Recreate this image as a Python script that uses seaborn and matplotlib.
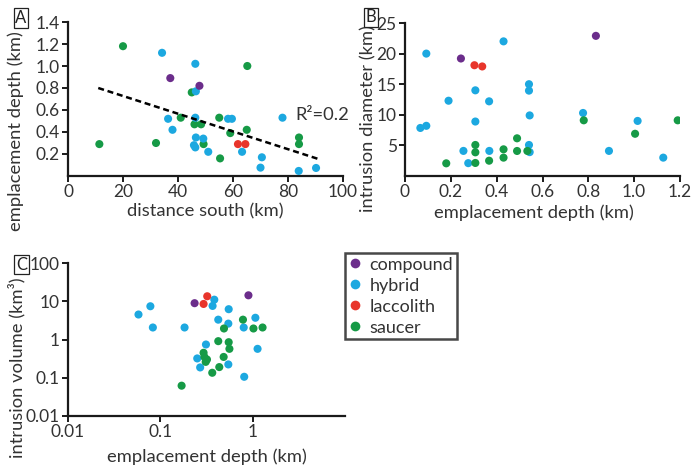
import matplotlib
matplotlib.use("Agg")
import matplotlib.pyplot as plt
from matplotlib.lines import Line2D
import seaborn as sns
import pandas as pd

# ---- intrusion types and colours ----
types = ["compound", "hybrid", "laccolith", "saucer"]
colors = {"compound": "#6b2d8b", "hybrid": "#1ca8e0", "laccolith": "#e8352b", "saucer": "#169a46"}

# ---- panel A: emplacement depth vs distance south ----
a_dist = [11.4, 20, 32, 41, 45, 46, 48.4, 49.3, 55, 55.3, 59, 65, 65.2, 84, 84,
          34.2, 46.3, 46.5, 36.4, 38, 46.3, 46.5, 49.2, 45.8, 46.3, 51, 58.2, 59.6, 63.3, 70.5, 70, 78, 83.9, 90.2,
          37.2, 47.8,
          61.8, 64.5]
a_depth = [0.29, 1.18, 0.30, 0.53, 0.76, 0.47, 0.47, 0.29, 0.53, 0.16, 0.39, 0.42, 1.00, 0.35, 0.29,
           1.12, 1.02, 0.77, 0.52, 0.42, 0.53, 0.35, 0.34, 0.28, 0.26, 0.22, 0.52, 0.52, 0.22, 0.17, 0.076, 0.53, 0.046, 0.073,
           0.89, 0.82,
           0.29, 0.29]
a_type = ["saucer"] * 15 + ["hybrid"] * 19 + ["compound"] * 2 + ["laccolith"] * 2
trend_dist = [11, 91]
trend_depth = [0.80, 0.155]
r2_text = "R²=0.2"

# ---- panel B: intrusion diameter vs emplacement depth ----
b_depth = [0.067, 0.093, 0.093, 0.19, 0.255, 0.276, 0.307, 0.307, 0.367, 0.368, 0.43, 0.541, 0.541, 0.544,
           0.541, 0.544, 0.777, 0.89, 1.015, 1.127,
           0.18, 0.307, 0.307, 0.307, 0.367, 0.43, 0.43, 0.489, 0.489, 0.534, 0.78, 1.004, 1.19,
           0.244, 0.833,
           0.303, 0.337]
b_diam = [7.85, 8.2, 20.0, 12.3, 4.1, 2.1, 14.0, 8.9, 12.2, 4.1, 22.0, 15.0, 13.95, 9.9,
          5.07, 3.9, 10.3, 4.1, 9.0, 3.0,
          2.07, 5.07, 3.87, 2.13, 2.5, 4.36, 3.0, 6.16, 4.09, 4.09, 9.1, 6.9, 9.1,
          19.2, 22.9,
          18.1, 17.9]
b_type = ["hybrid"] * 20 + ["saucer"] * 13 + ["compound"] * 2 + ["laccolith"] * 2

# ---- panel C: intrusion volume vs emplacement depth (log-log) ----
c_depth = [0.058, 0.078, 0.083, 0.183, 0.251, 0.27, 0.312, 0.368, 0.384, 0.424, 0.55, 0.545, 0.545, 0.80,
           0.81, 1.07, 1.13,
           0.17, 0.294, 0.30, 0.32, 0.31, 0.365, 0.424, 0.435, 0.489, 0.485, 0.55, 0.56, 0.785, 1.02, 1.28,
           0.235, 0.90,
           0.294, 0.322]
c_volume = [4.5, 7.4, 2.06, 2.06, 0.32, 0.186, 0.74, 7.55, 11.0, 3.3, 6.2, 2.6, 0.223, 2.06,
            0.106, 3.7, 0.57,
            0.062, 0.45, 0.35, 0.30, 0.26, 0.135, 0.905, 0.19, 1.94, 0.35, 0.85, 0.57, 3.3, 1.94, 2.06,
            8.9, 14.3,
            8.5, 13.5]
c_type = ["hybrid"] * 17 + ["saucer"] * 15 + ["compound"] * 2 + ["laccolith"] * 2

dfa = pd.DataFrame({"distance": a_dist, "depth": a_depth, "type": a_type})
dfb = pd.DataFrame({"depth": b_depth, "diameter": b_diam, "type": b_type})
dfc = pd.DataFrame({"depth": c_depth, "volume": c_volume, "type": c_type})

sns.set_theme(style="ticks")
plt.rcParams["font.family"] = ["Lato", "DejaVu Sans"]
FS = 12.5   # tick labels
LFS = 13.2  # axis labels

fig = plt.figure(figsize=(6.91, 4.74), dpi=100)
W, H = 691, 474


def add_ax(left, top, right, bottom):
    return fig.add_axes([left / W, 1 - bottom / H, (right - left) / W, (bottom - top) / H])


def place_labels(ax, box, xlab_center_y, ylab_center):
    """Put the axis labels at fixed pixel centres (box = left, top, right, bottom)."""
    left, top, right, bottom = box
    w, h = right - left, bottom - top
    ax.xaxis.label.set_verticalalignment("center")
    ax.xaxis.set_label_coords(0.5, -(xlab_center_y - bottom) / h)
    ax.yaxis.label.set_verticalalignment("center")
    ax.yaxis.set_label_coords((ylab_center[0] - left) / w, (bottom - ylab_center[1]) / h)


boxA = (68, 22, 343, 176)
boxB = (405, 23, 680, 176)
boxC = (68, 263, 345, 416)
axA = add_ax(*boxA)
axB = add_ax(*boxB)
axC = add_ax(*boxC)

mk = dict(hue="type", hue_order=types, palette=colors, s=34, linewidth=0, legend=False, alpha=1, zorder=3)

sns.scatterplot(data=dfa, x="distance", y="depth", ax=axA, **mk)
axA.plot(trend_dist, trend_depth, color="black", lw=1.8, ls=(0, (2.4, 1.5)), zorder=4)
axA.text(92.5, 0.55, r2_text, fontsize=LFS, ha="center", va="center", color="#333333", clip_on=False)
axA.set_xlim(0, 100)
axA.set_ylim(0, 1.4)
axA.set_xticks([0, 20, 40, 60, 80, 100])
axA.set_yticks([0.2, 0.4, 0.6, 0.8, 1.0, 1.2, 1.4])
axA.set_yticklabels(["0.2", "0.4", "0.6", "0.8", "1.0", "1.2", "1.4"])
axA.set_xlabel("distance south (km)", fontsize=LFS)
axA.set_ylabel("emplacement depth (km)", fontsize=LFS)
place_labels(axA, boxA, 211, (16, 131))

sns.scatterplot(data=dfb, x="depth", y="diameter", ax=axB, **mk)
axB.set_xlim(0, 1.2)
axB.set_ylim(0, 25)
axB.set_xticks([0, 0.2, 0.4, 0.6, 0.8, 1.0, 1.2])
axB.set_xticklabels(["0", "0.2", "0.4", "0.6", "0.8", "1.0", "1.2"])
axB.set_yticks([5, 10, 15, 20, 25])
axB.set_xlabel("emplacement depth (km)", fontsize=LFS)
axB.set_ylabel("intrusion diameter (km)", fontsize=LFS)
place_labels(axB, boxB, 213, (368, 119))
axB.xaxis.set_label_coords(0.47, axB.xaxis.label.get_position()[1])

sns.scatterplot(data=dfc, x="depth", y="volume", ax=axC, **mk)
axC.set_xscale("log")
axC.set_yscale("log")
axC.set_xlim(0.01, 10)
axC.set_ylim(0.01, 100)
axC.set_xticks([0.01, 0.1, 1])
axC.set_xticklabels(["0.01", "0.1", "1"])
axC.set_yticks([0.01, 0.1, 1, 10, 100])
axC.set_yticklabels(["0.01", "0.1", "1", "10", "100"])
axC.minorticks_off()
axC.set_xlabel("emplacement depth (km)", fontsize=LFS)
axC.set_ylabel("intrusion volume (km³)", fontsize=LFS)
place_labels(axC, boxC, 457, (17, 368))

for ax in (axA, axB, axC):
    sns.despine(ax=ax)
    for sp in ("left", "bottom"):
        ax.spines[sp].set_linewidth(1.6)
        ax.spines[sp].set_color("#1a1a1a")
    ax.tick_params(axis="both", which="both", direction="out", length=4, width=1.4,
                   labelsize=FS, pad=2, colors="#1a1a1a", labelcolor="#333333")
    ax.xaxis.label.set_color("#333333")
    ax.yaxis.label.set_color("#333333")

# panel letters
for letter, (px, py) in zip("ABC", [(21, 18), (371, 17.5), (21.5, 264.5)]):
    fig.text(px / W, 1 - py / H, letter, fontsize=12, ha="center", va="center", color="#222222",
             bbox=dict(boxstyle="square,pad=0.1", fc="white", ec="#222222", lw=0.9))

# legend
handles = [Line2D([], [], marker="o", ls="none", markersize=7, markerfacecolor=colors[t],
                  markeredgewidth=0) for t in types]
leg = fig.legend(handles, types, loc="upper left", bbox_to_anchor=(345 / W, 1 - 253 / H),
                 fontsize=13, frameon=True, fancybox=False, handlelength=0.7, handletextpad=0.45,
                 borderpad=0.2, labelspacing=0.28, borderaxespad=0)
leg.get_frame().set_edgecolor("#1a1a1a")
leg.get_frame().set_linewidth(1.8)
for t in leg.get_texts():
    t.set_color("#333333")

fig.savefig("out.png", dpi=100)
